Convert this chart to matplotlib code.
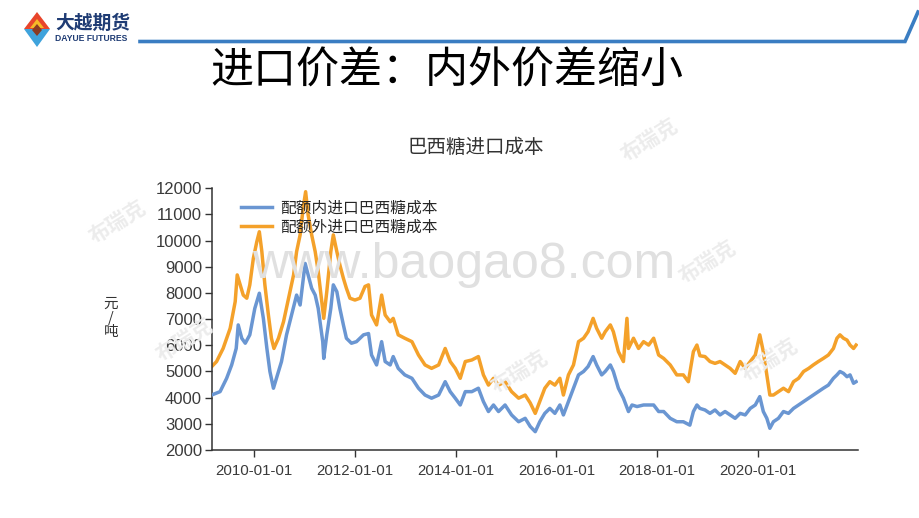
import numpy as np
import pandas as pd
import matplotlib
matplotlib.use("Agg")
import matplotlib.pyplot as plt
import matplotlib.dates as mdates
from matplotlib.patches import Polygon
from matplotlib.lines import Line2D

plt.rcParams['font.family'] = ['Liberation Sans', 'Noto Sans CJK SC', 'DejaVu Sans']
CJK = ['Noto Sans CJK SC', 'DejaVu Sans']

# ---------------- data (decimal year, 元/吨) ----------------
in_years = [2009.15, 2009.32, 2009.45, 2009.55, 2009.64, 2009.68, 2009.75, 2009.82, 2009.91,
            2010.01, 2010.10, 2010.18, 2010.25, 2010.31, 2010.38, 2010.46, 2010.54, 2010.64,
            2010.74, 2010.84, 2010.91, 2011.01, 2011.07, 2011.14, 2011.21, 2011.27, 2011.36,
            2011.38, 2011.44, 2011.52, 2011.57, 2011.64, 2011.70, 2011.77, 2011.83, 2011.93,
            2012.03, 2012.17, 2012.27, 2012.33, 2012.43, 2012.53, 2012.60, 2012.70, 2012.76,
            2012.86, 2012.99, 2013.13, 2013.26, 2013.39, 2013.52, 2013.66, 2013.79, 2013.89,
            2013.99, 2014.09, 2014.19, 2014.32, 2014.45, 2014.55, 2014.65, 2014.75, 2014.85,
            2014.98, 2015.11, 2015.25, 2015.38, 2015.48, 2015.58, 2015.67, 2015.77, 2015.87,
            2015.97, 2016.07, 2016.14, 2016.24, 2016.34, 2016.44, 2016.54, 2016.63, 2016.73,
            2016.80, 2016.90, 2016.97, 2017.07, 2017.13, 2017.23, 2017.33, 2017.43, 2017.50,
            2017.60, 2017.73, 2017.83, 2017.93, 2018.03, 2018.13, 2018.26, 2018.39, 2018.52,
            2018.65, 2018.72, 2018.79, 2018.85, 2018.95, 2019.05, 2019.15, 2019.25, 2019.35,
            2019.45, 2019.55, 2019.65, 2019.75, 2019.85, 2019.95, 2020.04, 2020.11, 2020.18,
            2020.24, 2020.31, 2020.41, 2020.51, 2020.61, 2020.71, 2020.81, 2020.91, 2021.01,
            2021.10, 2021.20, 2021.30, 2021.40, 2021.50, 2021.57, 2021.63, 2021.70, 2021.77,
            2021.83, 2021.90, 2021.95]
in_values = [4100, 4230, 4740, 5250, 5880, 6780, 6270, 6080, 6400,
             7410, 7990, 7030, 5880, 5000, 4360, 4870, 5380, 6400,
             7160, 7920, 7540, 9130, 8690, 8180, 7920, 7410, 6140,
             5500, 6400, 7410, 8310, 8050, 7410, 6780, 6270, 6080,
             6140, 6400, 6450, 5630, 5250, 6140, 5380, 5250, 5570,
             5120, 4870, 4740, 4360, 4100, 3980, 4100, 4610, 4230,
             3980, 3720, 4230, 4230, 4360, 3850, 3470, 3720, 3470,
             3720, 3340, 3080, 3210, 2900, 2700, 3080, 3400, 3590,
             3400, 3720, 3340, 3850, 4360, 4870, 5000, 5190, 5570,
             5250, 4870, 5000, 5250, 5000, 4360, 3980, 3470, 3720,
             3660, 3720, 3720, 3720, 3470, 3470, 3210, 3080, 3080,
             2950, 3470, 3720, 3590, 3530, 3400, 3530, 3340, 3470,
             3340, 3210, 3400, 3340, 3590, 3720, 4040, 3470, 3210,
             2830, 3080, 3210, 3470, 3400, 3590, 3720, 3850, 3980,
             4100, 4230, 4360, 4480, 4740, 4870, 5000, 4930, 4800,
             4870, 4550, 4610]

out_years = [2009.15, 2009.25, 2009.38, 2009.52, 2009.62, 2009.66, 2009.72, 2009.78, 2009.85,
             2009.91, 2009.98, 2010.05, 2010.10, 2010.15, 2010.21, 2010.28, 2010.34, 2010.39,
             2010.48, 2010.58, 2010.68, 2010.78, 2010.84, 2010.91, 2010.97, 2011.02, 2011.07,
             2011.14, 2011.21, 2011.27, 2011.34, 2011.38, 2011.44, 2011.52, 2011.57, 2011.64,
             2011.70, 2011.77, 2011.83, 2011.90, 2012.00, 2012.10, 2012.20, 2012.27, 2012.33,
             2012.43, 2012.53, 2012.60, 2012.70, 2012.76, 2012.86, 2012.99, 2013.13, 2013.26,
             2013.39, 2013.52, 2013.66, 2013.79, 2013.89, 2013.99, 2014.09, 2014.19, 2014.32,
             2014.45, 2014.55, 2014.65, 2014.75, 2014.85, 2014.98, 2015.11, 2015.25, 2015.38,
             2015.48, 2015.58, 2015.67, 2015.77, 2015.87, 2015.97, 2016.07, 2016.14, 2016.24,
             2016.34, 2016.44, 2016.54, 2016.63, 2016.73, 2016.80, 2016.90, 2016.97, 2017.07,
             2017.13, 2017.23, 2017.33, 2017.40, 2017.43, 2017.53, 2017.63, 2017.73, 2017.83,
             2017.93, 2018.03, 2018.13, 2018.26, 2018.39, 2018.52, 2018.62, 2018.72, 2018.79,
             2018.85, 2018.95, 2019.05, 2019.15, 2019.25, 2019.35, 2019.45, 2019.55, 2019.65,
             2019.75, 2019.85, 2019.95, 2020.04, 2020.11, 2020.18, 2020.24, 2020.31, 2020.41,
             2020.51, 2020.61, 2020.71, 2020.81, 2020.91, 2021.01, 2021.10, 2021.20, 2021.30,
             2021.40, 2021.50, 2021.57, 2021.63, 2021.70, 2021.77, 2021.83, 2021.90, 2021.95]
out_values = [5180, 5380, 5880, 6650, 7670, 8690, 8310, 7920, 7800,
              8310, 9320, 9960, 10340, 9580, 8310, 7160, 6270, 5880,
              6270, 6900, 7800, 8690, 9580, 10220, 11240, 11870, 10980,
              10220, 9580, 8820, 7670, 7030, 8050, 9580, 10220, 9580,
              9070, 8560, 8180, 7800, 7730, 7800, 8250, 8310, 7160,
              6780, 7920, 7160, 6900, 7030, 6400, 6270, 6140, 5630,
              5250, 5120, 5250, 5880, 5380, 5120, 4740, 5380, 5440,
              5570, 4870, 4480, 4740, 4480, 4610, 4230, 3980, 4100,
              3800, 3400, 3850, 4360, 4610, 4480, 4740, 4100, 4870,
              5250, 6140, 6270, 6520, 7030, 6650, 6270, 6520, 6780,
              6520, 5760, 5380, 7030, 5880, 6270, 5880, 6140, 6010,
              6270, 5630, 5500, 5250, 4870, 4870, 4610, 5760, 6010,
              5600, 5570, 5380, 5310, 5380, 5250, 5120, 4930, 5380,
              5120, 5380, 5630, 6400, 5760, 4870, 4100, 4100, 4230,
              4360, 4230, 4610, 4740, 5000, 5120, 5250, 5380, 5500,
              5630, 5880, 6270, 6400, 6270, 6200, 6010, 5880, 6010]

series_names = ['配额内进口巴西糖成本', '配额外进口巴西糖成本']
x_ticks = ['2010-01-01', '2012-01-01', '2014-01-01', '2016-01-01', '2018-01-01', '2020-01-01']
y_ticks = [2000, 3000, 4000, 5000, 6000, 7000, 8000, 9000, 10000, 11000, 12000]
x_range = ['2009-02-26', '2021-12-28']


def to_dt(years):
    years = np.asarray(years, dtype=float)
    y = np.floor(years).astype(int)
    start = pd.to_datetime([f"{v}-01-01" for v in y])
    return start + pd.to_timedelta((years - y) * 365.25, unit='D')


W, H = 920, 518
fig = plt.figure(figsize=(W / 100, H / 100), dpi=100)
fig.patch.set_facecolor('white')


def P(x, y):
    return (x / W, 1 - y / H)


# ---------------- slide header ----------------
fig.patches.append(Polygon([P(37, 12), P(50, 29), P(24, 29)], closed=True,
                           facecolor='#E8452B', edgecolor='none', transform=fig.transFigure))
fig.patches.append(Polygon([P(37, 19), P(44, 28), P(30, 28)], closed=True,
                           facecolor='#F6B928', edgecolor='none', transform=fig.transFigure))
fig.patches.append(Polygon([P(24, 29), P(50, 29), P(37, 47)], closed=True,
                           facecolor='#3FA3DC', edgecolor='none', transform=fig.transFigure))
fig.patches.append(Polygon([P(37, 24), P(42, 30), P(37, 36), P(32, 30)], closed=True,
                           facecolor='#8B3A22', edgecolor='none', transform=fig.transFigure))
fig.text(*P(55, 23), '大越期货', family=CJK, fontsize=13.5, fontweight='bold',
         color='#1F3C74', va='center', ha='left')
fig.text(*P(55, 38.5), 'DAYUE FUTURES', fontsize=6.2, fontweight='bold',
         color='#1F3C74', va='center', ha='left')
fig.lines.append(Line2D([140 / W, 905 / W, 918 / W], [1 - 41.5 / H, 1 - 41.5 / H, 1 - 12 / H],
                        transform=fig.transFigure, color='#3A7DC2', lw=2.6,
                        solid_joinstyle='miter'))

fig.text(*P(447, 72), '进口价差：内外价差缩小', family=CJK, fontsize=31,
         fontweight='medium', color='black', ha='center', va='center')

# ---------------- chart ----------------
ax = fig.add_axes([211.7 / W, 1 - 450 / H, (858 - 211.7) / W, (450 - 188.3) / H])
ax.set_facecolor('white')

# watermarks
fig.text(*P(464, 265), 'www.baogao8.com', fontsize=36, color='#e0e0e0',
         ha='center', va='center', zorder=0.5)
for (wx, wy) in [(118, 222), (650, 140), (708, 262), (185, 340), (520, 372), (770, 360)]:
    fig.text(*P(wx, wy), '布瑞克', family=CJK, fontsize=15, fontweight='bold',
             color='#ececec', rotation=32, ha='center', va='center', zorder=0.5)

ax.plot(to_dt(in_years), in_values, color='#6A96D2', lw=2.5, label=series_names[0], zorder=3)
ax.plot(to_dt(out_years), out_values, color='#F4A12A', lw=2.5, label=series_names[1], zorder=2)

ax.set_ylim(y_ticks[0], y_ticks[-1])
ax.set_yticks(y_ticks)
ax.set_xlim(pd.to_datetime(x_range[0]), pd.to_datetime(x_range[1]))
ax.set_xticks(pd.to_datetime(x_ticks))
ax.xaxis.set_major_formatter(mdates.DateFormatter('%Y-%m-%d'))

for s in ['top', 'right']:
    ax.spines[s].set_visible(False)
for s in ['left', 'bottom']:
    ax.spines[s].set_color('#333333')
    ax.spines[s].set_linewidth(1.1)
ax.tick_params(axis='y', direction='out', length=5, width=1, color='#333333',
               labelsize=12, labelcolor='#3a3a3a', pad=2)
ax.tick_params(axis='x', direction='out', length=5, width=1, color='#333333',
               labelsize=10.8, labelcolor='#3a3a3a', pad=5)

leg = ax.legend(loc='upper left', bbox_to_anchor=(0.035, 0.98), frameon=False,
                prop={'family': CJK, 'size': 11.3}, handlelength=2.0,
                handletextpad=0.5, labelspacing=0.1, borderaxespad=0)
for t in leg.get_texts():
    t.set_color('#262626')

fig.text(*P(476, 147), '巴西糖进口成本', family=CJK, fontsize=14,
         color='#333333', ha='center', va='center')
fig.text(*P(111, 318), '元\n/\n吨', family=CJK, fontsize=10.5, color='#333333',
         ha='center', va='center', linespacing=1.0)

fig.savefig('out.png', dpi=100, facecolor='white')
